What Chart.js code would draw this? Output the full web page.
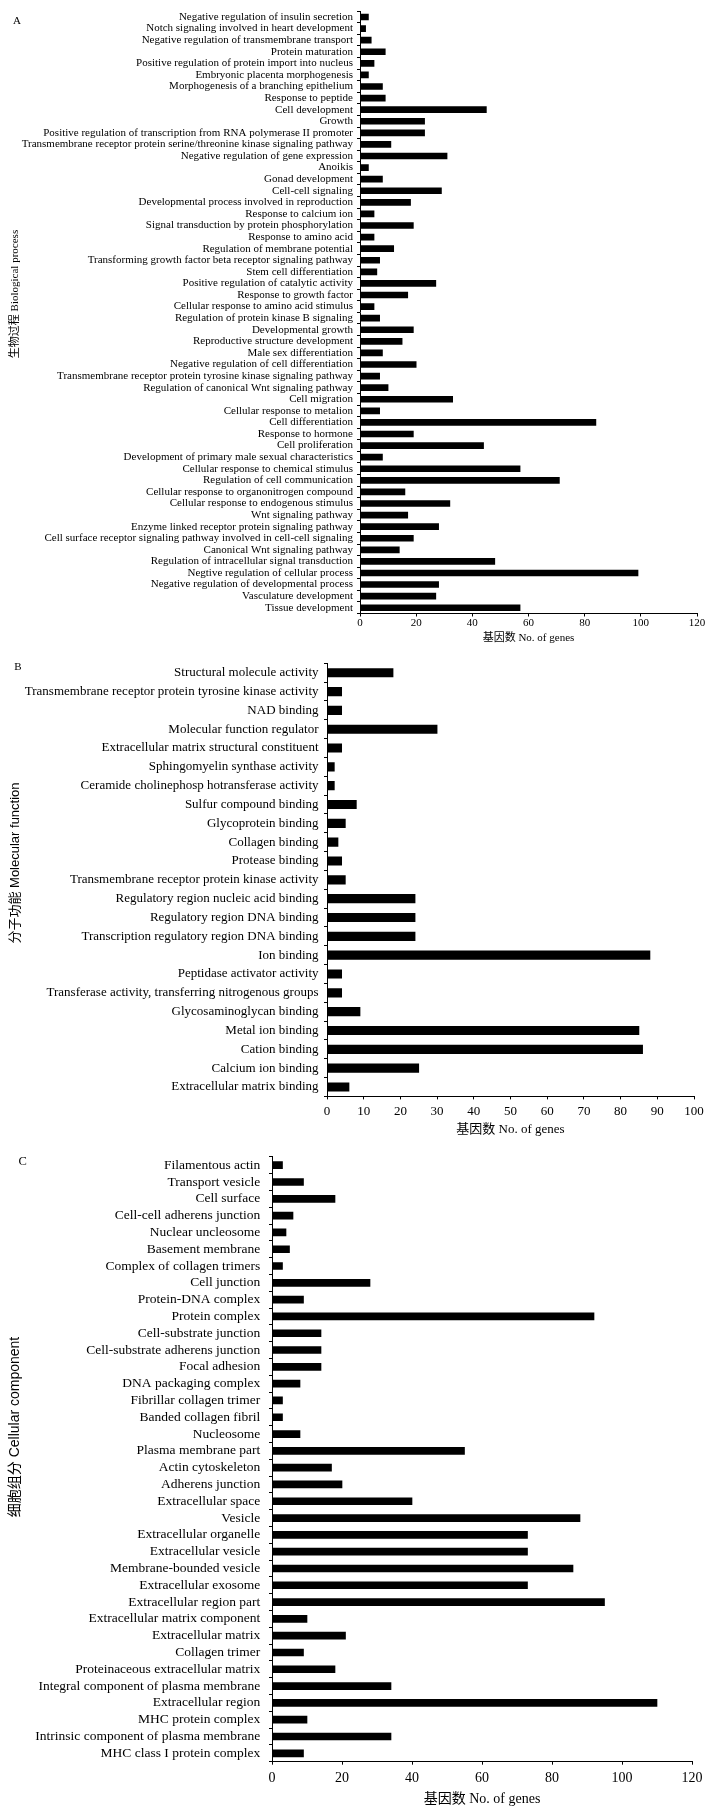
<!DOCTYPE html>
<html><head><meta charset="utf-8">
<script src="https://cdn.jsdelivr.net/npm/chart.js@4.4.1/dist/chart.umd.min.js"></script>
<style>
html,body{margin:0;padding:0;background:#fff;}
body{width:720px;height:1816px;position:relative;overflow:hidden;}
.panel{position:absolute;left:0;width:720px;}
</style></head><body>
<div class="panel" style="top:0;height:650px"><canvas id="cA"></canvas></div>
<div class="panel" style="top:650px;height:490px"><canvas id="cB"></canvas></div>
<div class="panel" style="top:1140px;height:676px"><canvas id="cC"></canvas></div>
<script>
const bpLabels = [
"Negative regulation of insulin secretion","Notch signaling involved in heart development","Negative regulation of transmembrane transport","Protein maturation","Positive regulation of protein import into nucleus","Embryonic placenta morphogenesis","Morphogenesis of a branching epithelium","Response to peptide","Cell development","Growth","Positive regulation of transcription from RNA polymerase II promoter","Transmembrane receptor protein serine/threonine kinase signaling pathway","Negative regulation of gene expression","Anoikis","Gonad development","Cell-cell signaling","Developmental process involved in reproduction","Response to calcium ion","Signal transduction by protein phosphorylation","Response to amino acid","Regulation of membrane potential","Transforming growth factor beta receptor signaling pathway","Stem cell differentiation","Positive regulation of catalytic activity","Response to growth factor","Cellular response to amino acid stimulus","Regulation of protein kinase B signaling","Developmental growth","Reproductive structure development","Male sex differentiation","Negative regulation of cell differentiation","Transmembrane receptor protein tyrosine kinase signaling pathway","Regulation of canonical Wnt signaling pathway","Cell migration","Cellular response to metalion","Cell differentiation","Response to hormone","Cell proliferation","Development of primary male sexual characteristics","Cellular response to chemical stimulus","Regulation of cell communication","Cellular response to organonitrogen compound","Cellular response to endogenous stimulus","Wnt signaling pathway","Enzyme linked receptor protein signaling pathway","Cell surface receptor signaling pathway involved in cell-cell signaling","Canonical Wnt signaling pathway","Regulation of intracellular signal transduction","Negtive regulation of cellular process","Negative regulation of developmental process","Vasculature development","Tissue development"];
const bpValues = [3,2,4,9,5,3,8,9,45,23,23,11,31,3,8,29,18,5,19,5,12,7,6,27,17,5,7,19,15,8,20,7,10,33,7,84,19,44,8,57,71,16,32,17,28,19,14,48,99,28,27,57];
const bpTicks = [0,20,40,60,80,100,120];

const mfLabels = [
"Structural molecule activity","Transmembrane receptor protein tyrosine kinase activity","NAD binding","Molecular function regulator","Extracellular matrix structural constituent","Sphingomyelin synthase activity","Ceramide cholinephosp hotransferase activity","Sulfur compound binding","Glycoprotein binding","Collagen binding","Protease binding","Transmembrane receptor protein kinase activity","Regulatory region nucleic acid binding","Regulatory region DNA binding","Transcription regulatory region DNA binding","Ion binding","Peptidase activator activity","Transferase activity, transferring nitrogenous groups","Glycosaminoglycan binding","Metal ion binding","Cation binding","Calcium ion binding","Extracellular matrix binding"];
const mfValues = [18,4,4,30,4,2,2,8,5,3,4,5,24,24,24,88,4,4,9,85,86,25,6];
const mfTicks = [0,10,20,30,40,50,60,70,80,90,100];

const ccLabels = [
"Filamentous actin","Transport vesicle","Cell surface","Cell-cell adherens junction","Nuclear uncleosome","Basement membrane","Complex of collagen trimers","Cell junction","Protein-DNA complex","Protein complex","Cell-substrate junction","Cell-substrate adherens junction","Focal adhesion","DNA packaging complex","Fibrillar collagen trimer","Banded collagen fibril","Nucleosome","Plasma membrane part","Actin cytoskeleton","Adherens junction","Extracellular space","Vesicle","Extracellular organelle","Extracellular vesicle","Membrane-bounded vesicle","Extracellular exosome","Extracellular region part","Extracellular matrix component","Extracellular matrix","Collagen trimer","Proteinaceous extracellular matrix","Integral component of plasma membrane","Extracellular region","MHC protein complex","Intrinsic component of plasma membrane","MHC class I protein complex"];
const ccValues = [3,9,18,6,4,5,3,28,9,92,14,14,14,8,3,3,8,55,17,20,40,88,73,73,86,73,95,10,21,9,18,34,110,10,34,9];
const ccTicks = [0,20,40,60,80,100,120];

const xTitle = "基因数 No. of genes";
const serif = "'Liberation Serif', 'Times New Roman', 'Noto Sans CJK SC', serif";
const sans = "'Liberation Sans', Arial, 'Noto Sans CJK SC', sans-serif";

function makeChart(id, labels, values, ticks, g) {
  const textPlugin = {
    id: 'panelText' + id,
    afterDraw(chart) {
      const ctx = chart.ctx;
      ctx.save();
      ctx.fillStyle = '#000';
      ctx.textAlign = 'center';
      ctx.textBaseline = 'middle';
      ctx.font = g.letter.font;
      ctx.fillText(g.letter.text, g.letter.x, g.letter.y);
      ctx.translate(g.yTitle.x, g.yTitle.y);
      ctx.rotate(-Math.PI / 2);
      ctx.font = g.yTitle.font;
      ctx.fillText(g.yTitle.text, 0, 0);
      ctx.restore();
    }
  };
  return new Chart(document.getElementById(id), {
    type: 'bar',
    data: { labels: labels, datasets: [{ data: values, backgroundColor: '#000', borderWidth: 0, barThickness: g.bar }] },
    options: {
      indexAxis: 'y', responsive: true, maintainAspectRatio: false, animation: false,
      layout: { padding: { top: g.top, left: 0, right: 720 - g.right, bottom: 0 } },
      plugins: { legend: { display: false }, tooltip: { enabled: false } },
      scales: {
        x: {
          type: 'linear', min: ticks[0], max: ticks[ticks.length - 1],
          afterBuildTicks: s => { s.ticks = ticks.map(v => ({ value: v })); },
          afterFit: s => { s.height = g.h - g.bottom; },
          grid: { display: true, drawOnChartArea: false, drawTicks: true, tickLength: 3, color: '#000', lineWidth: 1 },
          border: { display: true, color: '#000', width: 1 },
          ticks: { color: '#000', font: { family: serif, size: g.xTickSize }, padding: g.xTickPad, maxRotation: 0, autoSkip: false },
          title: { display: true, text: xTitle, color: '#000', font: { family: serif, size: g.xTitleSize }, padding: { top: 0, bottom: g.xTitlePad } }
        },
        y: {
          afterFit: s => { s.width = g.left; },
          grid: { display: true, drawOnChartArea: false, drawTicks: true, tickLength: 3, color: '#000', lineWidth: 1, offset: true },
          border: { display: true, color: '#000', width: 1 },
          ticks: { color: '#000', font: { family: serif, size: g.yTickSize }, padding: g.yTickPad, autoSkip: false }
        }
      }
    },
    plugins: [textPlugin]
  });
}

makeChart('cA', bpLabels, bpValues, bpTicks, {
  h: 650, top: 11.2, bottom: 613.5, left: 360, right: 697, bar: 6,
  yTickSize: 11, yTickPad: 4, xTickSize: 11, xTickPad: 0.5, xTitleSize: 11, xTitlePad: 5.4,
  yTitle: { text: '生物过程 Biological process', x: 15, y: 294, font: '11px ' + serif },
  letter: { text: 'A', x: 17, y: 21, font: '11px ' + serif }
});
makeChart('cB', mfLabels, mfValues, mfTicks, {
  h: 490, top: 12.3, bottom: 446.4, left: 327, right: 694, bar: 8.5,
  yTickSize: 13, yTickPad: 5.5, xTickSize: 13, xTickPad: 4.5, xTitleSize: 13, xTitlePad: 2.2,
  yTitle: { text: '分子功能 Molecular function', x: 15, y: 213, font: '13px ' + sans },
  letter: { text: 'B', x: 18, y: 17, font: '11px ' + serif }
});
makeChart('cC', ccLabels, ccValues, ccTicks, {
  h: 676, top: 13.9, bottom: 621.7, left: 272, right: 692, bar: 7,
  yTickSize: 13.5, yTickPad: 8.7, xTickSize: 14, xTickPad: 5, xTitleSize: 14, xTitlePad: 8.6,
  yTitle: { text: '细胞组分 Cellular component', x: 15, y: 287, font: '14px ' + sans },
  letter: { text: 'C', x: 22.7, y: 21.7, font: '12.5px ' + serif }
});
</script>
</body></html>
